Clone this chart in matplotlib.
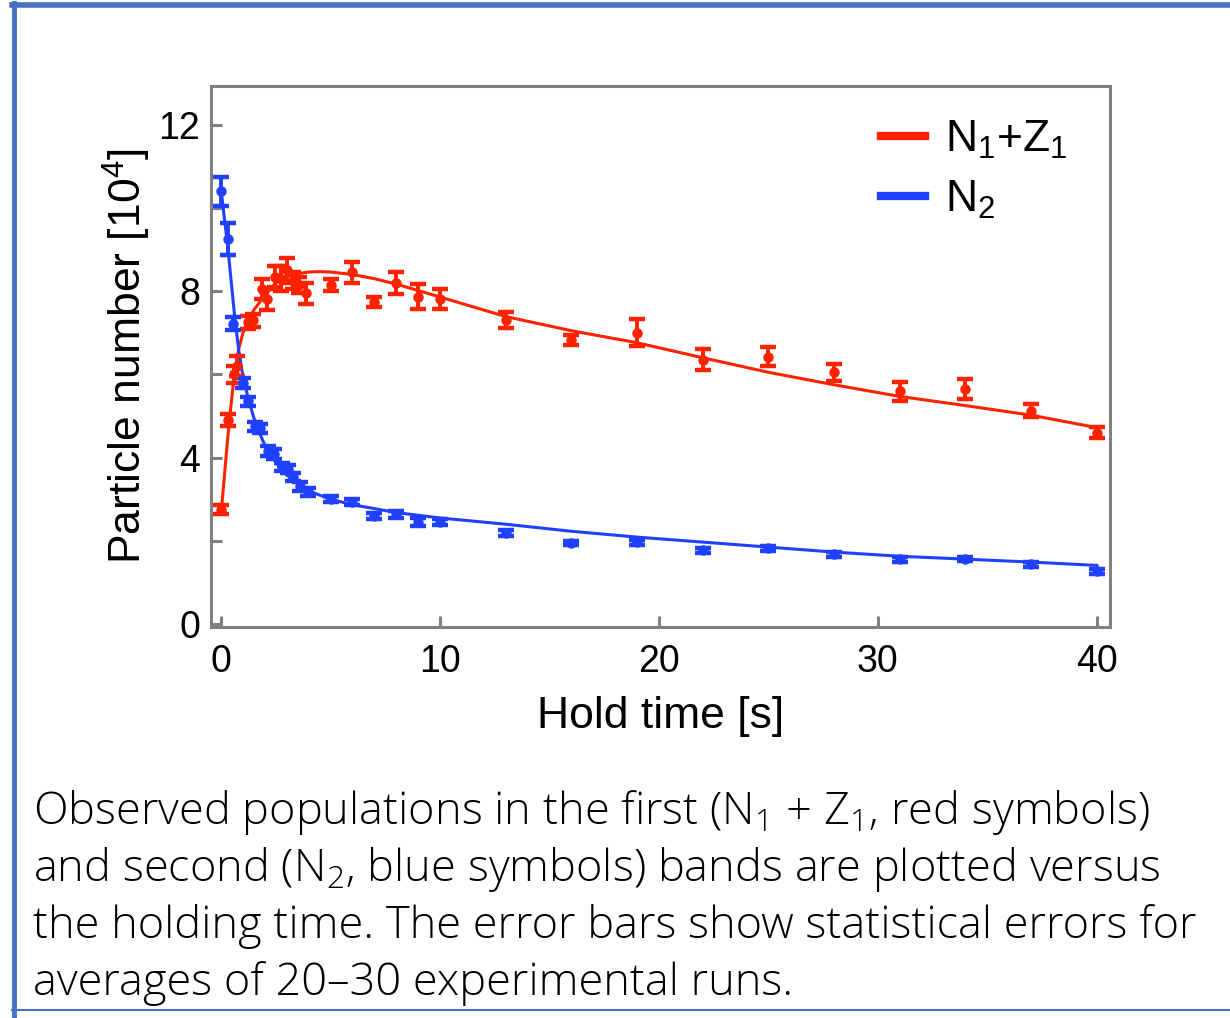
import matplotlib
matplotlib.use("Agg")
import matplotlib.pyplot as plt
from matplotlib.lines import Line2D

plt.rcParams["font.family"] = ["Liberation Sans", "DejaVu Sans"]
plt.rcParams["mathtext.default"] = "regular"

# N1+Z1 (first band), red symbols
red_t = [0.0, 0.3, 0.6, 0.75, 1.25, 1.45, 1.85, 2.1, 2.45, 2.75, 3.0, 3.3, 3.55, 3.9,
         5, 6, 7, 8, 9, 10, 13, 16, 19, 22, 25, 28, 31, 34, 37, 40]
red_n = [2.75, 4.9, 6.0, 6.2, 7.25, 7.3, 8.05, 7.8, 8.35, 8.3, 8.5, 8.25, 8.15, 7.95,
         8.15, 8.45, 7.75, 8.2, 7.87, 7.8, 7.31, 6.83, 7.0, 6.35, 6.43, 6.05, 5.59, 5.64, 5.13, 4.6]
red_err = [0.1, 0.15, 0.2, 0.25, 0.15, 0.15, 0.25, 0.25, 0.25, 0.3, 0.3, 0.2, 0.2, 0.25,
           0.15, 0.25, 0.12, 0.26, 0.31, 0.24, 0.2, 0.12, 0.32, 0.25, 0.24, 0.21, 0.23, 0.24, 0.16, 0.14]

# N2 (second band), blue symbols
blue_t = [0.0, 0.3, 0.55, 1.0, 1.25, 1.55, 1.8, 2.15, 2.4, 2.8, 3.05, 3.3, 3.6, 3.95,
          5, 6, 7, 8, 9, 10, 13, 16, 19, 22, 25, 28, 31, 34, 37, 40]
blue_n = [10.4, 9.25, 7.22, 5.8, 5.35, 4.75, 4.7, 4.15, 4.08, 3.77, 3.72, 3.53, 3.31, 3.17,
          3.0, 2.93, 2.6, 2.64, 2.45, 2.45, 2.18, 1.94, 1.97, 1.77, 1.82, 1.68, 1.56, 1.56, 1.44, 1.27]
blue_err = [0.35, 0.38, 0.15, 0.12, 0.1, 0.1, 0.12, 0.12, 0.12, 0.1, 0.1, 0.1, 0.1, 0.1,
            0.07, 0.08, 0.07, 0.08, 0.1, 0.08, 0.07, 0.05, 0.06, 0.07, 0.06, 0.06, 0.06, 0.05, 0.06, 0.06]

# fitted curves
red_fit_t = [0.0, 0.15, 0.3, 0.45, 0.6, 0.8, 1.0, 1.25, 1.5, 2.0, 2.5, 3.0, 3.5, 4.0, 4.5,
             5.0, 6.0, 7.0, 8.0, 10, 13, 16, 19, 22, 25, 28, 31, 34, 37, 40]
red_fit_n = [2.65, 3.55, 4.45, 5.25, 5.95, 6.6, 7.0, 7.3, 7.55, 7.9, 8.2, 8.35, 8.42, 8.46, 8.47,
             8.46, 8.4, 8.3, 8.17, 7.86, 7.39, 7.05, 6.76, 6.4, 6.05, 5.75, 5.47, 5.25, 5.02, 4.72]
blue_fit_t = [0.0, 0.15, 0.3, 0.45, 0.6, 0.8, 1.0, 1.25, 1.5, 1.75, 2.0, 2.5, 3.0, 4.0, 5.0,
              6.0, 8.0, 10, 13, 16, 19, 22, 25, 28, 31, 34, 37, 40]
blue_fit_n = [10.45, 9.75, 9.1, 8.3, 7.5, 6.6, 5.95, 5.4, 4.95, 4.6, 4.3, 3.88, 3.58, 3.2, 3.0,
              2.87, 2.68, 2.55, 2.4, 2.23, 2.09, 1.97, 1.85, 1.73, 1.63, 1.56, 1.49, 1.41]

caption = [
    "Observed populations in the first (N$_1$ + Z$_1$, red symbols)",
    "and second (N$_2$, blue symbols) bands are plotted versus",
    "the holding time. The error bars show statistical errors for",
    "averages of 20\u201330 experimental runs.",
]

RED = "#ff2200"
BLUE = "#2040ff"
GREY = "#808080"

fig = plt.figure(figsize=(12.30, 10.18), dpi=100)
ax = fig.add_axes([211 / 1230, 1 - 627 / 1018, 899 / 1230, 541 / 1018])

ax.plot(red_fit_t, red_fit_n, color=RED, lw=2.2)
ax.plot(blue_fit_t, blue_fit_n, color=BLUE, lw=2.2)
ax.errorbar(red_t, red_n, yerr=red_err, fmt="o", ms=6.5, color=RED,
            elinewidth=2.8, capsize=5.5, capthick=3.2)
ax.errorbar(blue_t, blue_n, yerr=blue_err, fmt="o", ms=6.5, color=BLUE,
            elinewidth=2.8, capsize=5.5, capthick=3.2)

ax.set_xlim(-0.46, 40.6)
ax.set_ylim(-0.07, 12.93)
ax.set_xticks([0, 10, 20, 30, 40])
ax.set_yticks([0, 4, 8, 12])
ax.set_yticks([2, 6, 10], minor=True)
for s in ax.spines.values():
    s.set_color(GREY)
    s.set_linewidth(2.2)
ax.tick_params(which="both", direction="in", color=GREY, width=2.2, labelsize=27)
ax.tick_params(axis="y", which="both", length=8, pad=8)
ax.tick_params(axis="x", length=8, pad=12)
ax.set_xlabel("Hold time [s]", fontsize=32, labelpad=12)
ax.set_ylabel("Particle number [10$^4$]", fontsize=32, labelpad=4)

handles = [Line2D([], [], color=RED, lw=6), Line2D([], [], color=BLUE, lw=6)]
ax.legend(handles, ["N$_1$+Z$_1$", "N$_2$"], loc="upper left",
          bbox_to_anchor=(0.745, 0.94), frameon=False, fontsize=32,
          handlelength=1.0, handletextpad=0.45, labelspacing=0.4,
          borderpad=0, borderaxespad=0)

for i, line in enumerate(caption):
    fig.text(33 / 1230, 1 - (824 + 57 * i) / 1018, line, fontsize=32.5,
             family="Open Sans", weight=300, va="baseline")

# blue frame round the slide
fig.add_artist(Line2D([13.5 / 1230, 13.5 / 1230], [0, 1 - 3 / 1018], color="#4472c4", lw=3.5,
                      transform=fig.transFigure))
fig.add_artist(Line2D([12 / 1230, 1], [1 - 5 / 1018, 1 - 5 / 1018], color="#4472c4", lw=4,
                      transform=fig.transFigure))
fig.add_artist(Line2D([12 / 1230, 1], [1 - 1010 / 1018, 1 - 1010 / 1018], color="#4472c4", lw=1.5,
                      transform=fig.transFigure))

fig.savefig("out.png", dpi=100)
